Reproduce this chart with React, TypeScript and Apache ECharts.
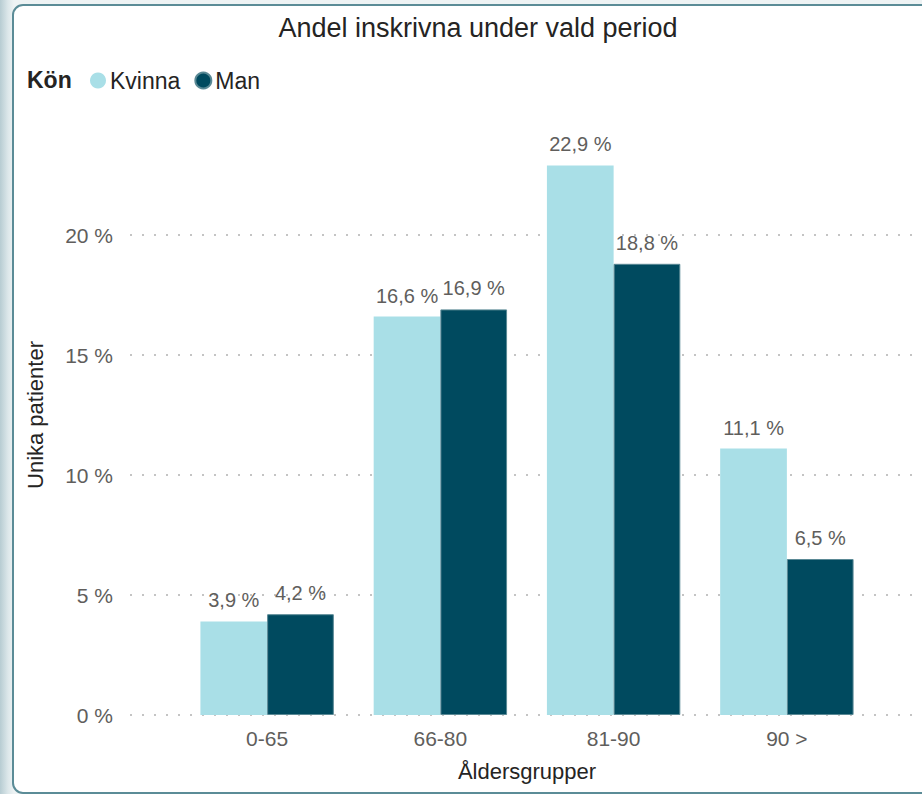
import React, { useEffect, useRef } from 'react';
import * as echarts from 'echarts';

const categories = ['0-65', '66-80', '81-90', '90 >'];
const kvinnaValues = [3.9, 16.6, 22.9, 11.1];
const manValues = [4.2, 16.9, 18.8, 6.5];
const seriesNames = ['Kvinna', 'Man'];
const yMin = 0;
const yMax = 25;
const yInterval = 5;

const FONT = "'Liberation Sans', Arial, sans-serif";
const fmt = (v: number) => v.toFixed(1).replace('.', ',') + ' %';

export default function App() {
  const ref = useRef<HTMLDivElement>(null);
  useEffect(() => {
    if (!ref.current) return;
    const chart = echarts.init(ref.current, undefined, { renderer: 'svg' });
    const labelStyle = {
      show: true,
      position: 'top' as const,
      distance: 11,
      color: '#605E5C',
      fontSize: 20,
      fontFamily: FONT,
      formatter: (p: any) => fmt(p.value),
    };
    chart.setOption({
      animation: false,
      backgroundColor: 'transparent',
      textStyle: { fontFamily: FONT },
      title: [
        {
          text: 'Andel inskrivna under vald period',
          left: 478,
          top: 14,
          textAlign: 'center',
          padding: 0,
          textStyle: { fontSize: 27, fontWeight: 'normal', color: '#252423', fontFamily: FONT },
        },
        {
          text: 'Kön',
          left: 27,
          top: 68,
          padding: 0,
          textStyle: { fontSize: 23, fontWeight: 'bold', color: '#252423', fontFamily: FONT },
        },
      ],
      legend: {
        data: seriesNames,
        left: 90,
        top: 69,
        padding: 0,
        icon: 'circle',
        itemWidth: 16,
        itemHeight: 16,
        itemGap: 14,
        textStyle: { fontSize: 23, color: '#252423', fontFamily: FONT, padding: [0, 0, 0, -1] },
      },
      grid: [
        { left: 180.5, right: 48.5, top: 115, bottom: 79 },
        { left: 130, right: 0, top: 115, bottom: 79 },
      ],
      xAxis: [
        {
          type: 'category',
          gridIndex: 0,
          data: categories,
          axisLine: { show: false },
          axisTick: { show: false },
          axisLabel: { color: '#605E5C', fontSize: 21, margin: 13, fontFamily: FONT },
          name: 'Åldersgrupper',
          nameLocation: 'middle',
          nameGap: 45,
          nameTextStyle: { color: '#252423', fontSize: 22, fontFamily: FONT },
          splitLine: { show: false },
        },
        { type: 'value', gridIndex: 1, show: false },
      ],
      yAxis: [
        { type: 'value', gridIndex: 0, min: yMin, max: yMax, interval: yInterval, show: false },
        {
          type: 'value',
          gridIndex: 1,
          min: yMin,
          max: yMax,
          interval: yInterval,
          axisLine: { show: false },
          axisTick: { show: false },
          axisLabel: {
            color: '#605E5C',
            fontSize: 21,
            margin: 17,
            fontFamily: FONT,
            formatter: (v: number) => (v >= yMax ? '' : v + ' %'),
          },
          splitLine: {
            show: true,
            lineStyle: {
              color: ['#c4c4c4', '#c4c4c4', '#c4c4c4', '#c4c4c4', '#c4c4c4', 'rgba(0,0,0,0)'],
              width: 2,
              type: [2, 10],
            },
          },
          name: 'Unika patienter',
          nameLocation: 'middle',
          nameRotate: 90,
          nameGap: 84,
          nameTextStyle: { color: '#252423', fontSize: 22, fontFamily: FONT },
        },
      ],
      series: [
        {
          name: seriesNames[0],
          type: 'bar',
          xAxisIndex: 0,
          yAxisIndex: 0,
          data: kvinnaValues,
          barGap: '0%',
          barCategoryGap: '23%',
          itemStyle: { color: '#A9DFE7' },
          label: labelStyle,
        },
        {
          name: seriesNames[1],
          type: 'bar',
          xAxisIndex: 0,
          yAxisIndex: 0,
          data: manValues,
          barGap: '0%',
          barCategoryGap: '23%',
          itemStyle: { color: '#004A5F', borderColor: '#5a8995', borderWidth: 1 },
          label: labelStyle,
        },
      ],
    });
    return () => chart.dispose();
  }, []);

  return (
    <div
      style={{
        position: 'fixed',
        left: 0,
        top: 0,
        width: 922,
        height: 794,
        overflow: 'hidden',
        background: 'linear-gradient(90deg, #b7ccd2 0px, #dce7ea 8px, #eef3f4 14px)',
      }}
    >
      <div
        style={{
          position: 'absolute',
          left: 11.5,
          top: 3.5,
          width: 1000,
          height: 786,
          border: '2.5px solid #5b8c97',
          borderRadius: 11,
          background: '#ffffff',
        }}
      />
      <div ref={ref} style={{ position: 'absolute', left: 0, top: 0, width: 922, height: 794 }} />
    </div>
  );
}
